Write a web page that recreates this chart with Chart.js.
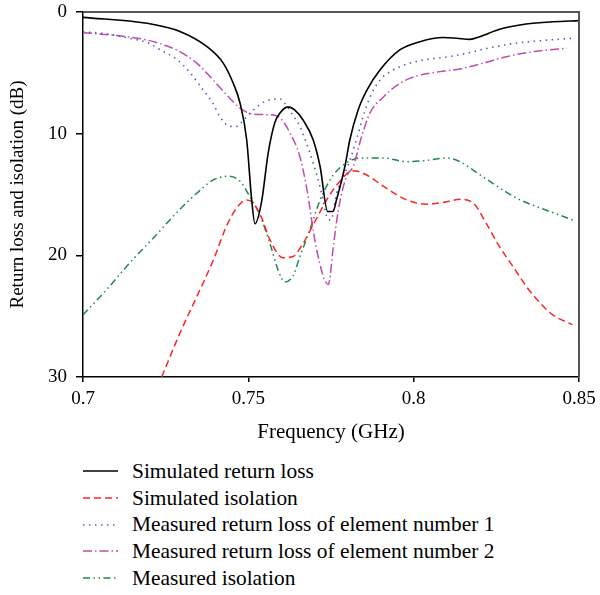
<!DOCTYPE html>
<html>
<head>
<title>Return loss and isolation</title>
<script src="https://cdn.jsdelivr.net/npm/chart.js@4.4.0/dist/chart.umd.min.js"></script>
<style>
	body{margin:0;background:#fff;}
	#wrap{position:relative;width:600px;height:595px;}
	#plot{position:absolute;left:0;top:0;}
	#legend{position:absolute;left:83px;top:458px;font-family:"Liberation Serif",serif;font-size:21.4px;color:#000;}
	#legend .row{height:26.7px;display:flex;align-items:center;}
	#legend svg{width:35px;height:10px;margin-right:14px;}
</style>
</head>
<body>
<div id="wrap">
	<canvas id="plot" width="600" height="450"></canvas>
	<div id="legend"></div>
</div>
<script>
// values (frequency in GHz, level in dB)
simRLFreq=[0.700,0.7194,0.7293,0.7375,0.7424,0.7455,0.7475,0.7495,0.751,0.752,0.754,0.756,0.758,0.7596,0.762,0.764,0.7666,0.7696,0.7717,0.7740,0.7756,0.7767,0.7792,0.7807,0.7832,0.7859,0.7898,0.7959,0.8019,0.8089,0.813,0.817,0.820,0.826,0.834,0.8421,0.850];
simRL=[0.44,0.93,1.6,2.85,4.2,5.9,7.5,10.5,15.4,17.4,15.6,11.6,9.1,8.3,7.8,8.05,8.9,10.5,12.7,16.4,16.4,15.4,12.7,10.5,8.05,6.4,4.77,3.1,2.44,2.1,2.16,2.25,2.03,1.42,0.99,0.8,0.71];

simIsoFreq=[0.7238,0.7293,0.7344,0.7394,0.7434,0.7465,0.7495,0.7515,0.754,0.7565,0.7605,0.7635,0.7666,0.7696,0.7737,0.7771,0.7817,0.7858,0.7918,0.7979,0.8039,0.810,0.814,0.818,0.822,0.826,0.830,0.8342,0.8382,0.8421,0.848];
simIso=[30,26.4,23.4,20.4,17.6,16.1,15.45,15.7,16.9,18.7,20.2,20.1,19.0,17.5,15.45,14.1,13.04,13.4,14.5,15.45,15.8,15.6,15.4,15.7,17.4,19.3,20.9,22.6,23.9,24.9,25.7];

measRL1Freq=[0.700,0.7072,0.7142,0.7193,0.7233,0.7284,0.7324,0.7363,0.7393,0.7414,0.7444,0.7465,0.7485,0.7515,0.7555,0.7596,0.761,0.7635,0.7656,0.7676,0.7696,0.7717,0.7737,0.7750,0.7767,0.7792,0.7807,0.7827,0.7847,0.7868,0.7898,0.7938,0.7989,0.8039,0.810,0.816,0.822,0.830,0.8382,0.8478];
measRL1=[1.62,1.8,2.17,2.5,3.1,3.9,5.0,6.4,7.5,8.6,9.4,9.4,8.9,8.05,7.3,7.15,7.5,8.5,9.4,10.8,12.4,14.4,16.8,17.1,14.9,13.3,12.2,10.5,8.6,7.0,5.6,4.77,4.2,3.9,3.7,3.4,3.0,2.6,2.36,2.17];

measRL2Freq=[0.700,0.709,0.7193,0.7254,0.7293,0.7344,0.7394,0.7434,0.7475,0.7515,0.7565,0.7596,0.7626,0.7656,0.7676,0.7707,0.7742,0.7757,0.7772,0.7797,0.7817,0.7843,0.7868,0.7908,0.7959,0.8009,0.808,0.814,0.821,0.8281,0.8361,0.8463];
measRL2=[1.7,1.9,2.3,2.8,3.26,4.2,5.6,6.8,7.9,8.4,8.45,8.7,9.95,11.9,14.4,19.6,22.4,19.3,16.3,13.5,12.7,10.2,8.3,7.0,5.85,5.26,4.9,4.68,4.2,3.67,3.26,2.98];

measIsoFreq=[0.700,0.7072,0.7142,0.7212,0.7283,0.7344,0.7394,0.7439,0.7475,0.7505,0.7535,0.7565,0.759,0.761,0.7635,0.7656,0.7686,0.7717,0.7757,0.7797,0.7838,0.7908,0.7979,0.8039,0.810,0.814,0.818,0.824,0.8311,0.8382,0.8442,0.849];
measIso=[24.9,22.8,20.6,18.6,16.5,14.9,13.8,13.5,13.9,15.2,16.7,19.0,21.2,22.2,21.7,20.1,17.9,15.45,13.4,12.4,12.0,12.0,12.3,12.2,12.0,12.3,13.0,14.1,15.3,16.1,16.7,17.2];

xTicks=[0.7,0.75,0.8,0.85];
yTicks=[0,10,20,30];

names=["Simulated return loss","Simulated isolation","Measured return loss of element number 1","Measured return loss of element number 2","Measured isolation"];
colors=["#000000","#ff2424","#4a5fd0","#c04cb0","#1e8a44"];
dashes=[[],[7,4],[1.5,4.5],[9,3,1.5,3],[7,3.5,1.5,3.5,1.5,3.5]];
widths=[1.6,1.5,1.6,1.5,1.5];

function pts(f,v){
	var out=[];
	for (var i=0;i<f.length;i++){out.push({x:f[i],y:v[i]});}
	return out;
}
series=[pts(simRLFreq,simRL),pts(simIsoFreq,simIso),pts(measRL1Freq,measRL1),pts(measRL2Freq,measRL2),pts(measIsoFreq,measIso)];

datasets=[];
for (var i=0;i<series.length;i++){
	datasets.push({
		label:names[i],
		data:series[i],
		borderColor:colors[i],
		borderWidth:widths[i],
		borderDash:dashes[i],
		pointRadius:0,
		fill:false,
		cubicInterpolationMode:'monotone'
	});
}

fontFam='"Liberation Serif", serif';

// grey frame on top and right, like the original box
framePlugin={
	id:'frame',
	afterDatasetsDraw:function(chart){
		var a=chart.chartArea, ctx=chart.ctx;
		ctx.save();
		ctx.strokeStyle='#555';
		ctx.lineWidth=2;
		ctx.beginPath();
		ctx.moveTo(a.left,a.top);
		ctx.lineTo(a.right,a.top);
		ctx.lineTo(a.right,a.bottom);
		ctx.stroke();
		ctx.restore();
	}
};

const myChart=new Chart(document.getElementById("plot"),{
	type:'line',
	data:{datasets:datasets},
	plugins:[framePlugin],
	options:{
		responsive:false,
		animation:false,
		layout:{padding:{top:12,right:21,left:0,bottom:0}},
		plugins:{legend:{display:false},tooltip:{enabled:false}},
		scales:{
			x:{
				type:'linear',
				min:0.7,max:0.85,
				afterBuildTicks:function(s){s.ticks=xTicks.map(function(v){return {value:v};});},
				afterFit:function(s){s.height=73;s.paddingLeft=0;s.paddingRight=0;},
				ticks:{
					color:'#000',padding:6,maxRotation:0,
					font:{family:fontFam,size:19},
					callback:function(v){return String(v);}
				},
				grid:{display:true,drawOnChartArea:false,drawTicks:true,tickLength:5,color:'#000',lineWidth:1.5},
				border:{display:true,color:'#000',width:1.5},
				title:{display:true,text:'Frequency (GHz)',color:'#000',font:{family:fontFam,size:21},padding:{top:0,bottom:5}}
			},
			y:{
				type:'linear',
				reverse:true,
				min:0,max:30,
				afterBuildTicks:function(s){s.ticks=yTicks.map(function(v){return {value:v};});},
				afterFit:function(s){s.width=83;s.paddingTop=0;s.paddingBottom=0;},
				ticks:{color:'#000',padding:9,font:{family:fontFam,size:19}},
				grid:{display:true,drawOnChartArea:false,drawTicks:true,tickLength:7,color:'#000',lineWidth:1.5},
				border:{display:true,color:'#000',width:1.5},
				title:{display:true,text:'Return loss and isolation (dB)',color:'#000',font:{family:fontFam,size:19},padding:{top:7,bottom:0}}
			}
		}
	}
});

// legend below the chart, one entry per row
legendHTML="";
for (var i=0;i<names.length;i++){
	legendHTML+='<div class="row"><svg viewBox="0 0 35 10"><line x1="0" y1="5" x2="35" y2="5" stroke="'+colors[i]+'" stroke-width="'+widths[i]+'"'+(dashes[i].length?' stroke-dasharray="'+dashes[i].join(",")+'"':'')+'/></svg><span>'+names[i]+'</span></div>';
}
document.getElementById("legend").innerHTML=legendHTML;
</script>
</body>
</html>
